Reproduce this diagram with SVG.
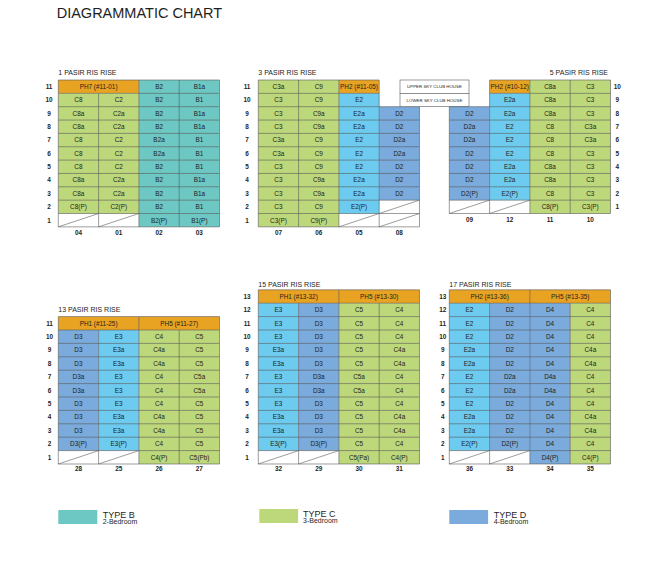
<svg xmlns="http://www.w3.org/2000/svg" width="668" height="569" viewBox="0 0 668 569">
<style>
text{font-family:"Liberation Sans",Arial,sans-serif;fill:#1e1e1e}
.c{font-size:6.4px;text-anchor:middle}
.f{font-size:6.4px;font-weight:bold;text-anchor:middle}
.s{font-size:7px}
.gr{fill:none;stroke:#5a5a5a;stroke-width:0.6}
.g{fill:#BDD77B}.t{fill:#6DC7C2}.d{fill:#7AABDC}.e{fill:#6DCBEF}.o{fill:#E9A322}
.sky{fill:#fff;stroke:#5a5a5a;stroke-width:0.6}
.k{font-size:4.4px;text-anchor:middle}
.lt{font-size:9px}.ls{font-size:7px}
</style>
<rect width="668" height="569" fill="#fff"/>
<text x="56.7" y="18.3" style="font-size:14.5px">DIAGRAMMATIC CHART</text>

<g id="block-1">
<g transform="translate(58.3,80)">
<text class="s" x="0" y="-5">1 PASIR RIS RISE</text>
<rect class="o" x="0" y="0" width="80.6" height="13.35"/>
<rect class="g" x="0" y="13.35" width="80.6" height="120.15"/>
<rect class="t" x="80.6" y="0" width="80.6" height="146.85"/>
<path class="gr" d="M0,0H161.2M0,13.35H161.2M0,26.7H161.2M0,40.05H161.2M0,53.4H161.2M0,66.75H161.2M0,80.1H161.2M0,93.45H161.2M0,106.8H161.2M0,120.15H161.2M0,133.5H161.2M0,146.85H161.2M0,0V146.85M40.3,13.35V146.85M80.6,0V146.85M120.9,0V146.85M161.2,0V146.85M0,146.85L40.3,133.5M40.3,146.85L80.6,133.5"/>
<text class="c" y="9"><tspan x="40.3">PH7 (#11-01)</tspan><tspan x="100.75">B2</tspan><tspan x="141.05">B1a</tspan></text>
<text class="c" y="22.35"><tspan x="20.15">C8</tspan><tspan x="60.45">C2</tspan><tspan x="100.75">B2</tspan><tspan x="141.05">B1</tspan></text>
<text class="c" y="35.7"><tspan x="20.15">C8a</tspan><tspan x="60.45">C2a</tspan><tspan x="100.75">B2</tspan><tspan x="141.05">B1a</tspan></text>
<text class="c" y="49.05"><tspan x="20.15">C8a</tspan><tspan x="60.45">C2a</tspan><tspan x="100.75">B2</tspan><tspan x="141.05">B1a</tspan></text>
<text class="c" y="62.4"><tspan x="20.15">C8</tspan><tspan x="60.45">C2</tspan><tspan x="100.75">B2a</tspan><tspan x="141.05">B1</tspan></text>
<text class="c" y="75.75"><tspan x="20.15">C8</tspan><tspan x="60.45">C2</tspan><tspan x="100.75">B2a</tspan><tspan x="141.05">B1</tspan></text>
<text class="c" y="89.1"><tspan x="20.15">C8</tspan><tspan x="60.45">C2</tspan><tspan x="100.75">B2</tspan><tspan x="141.05">B1</tspan></text>
<text class="c" y="102.45"><tspan x="20.15">C8a</tspan><tspan x="60.45">C2a</tspan><tspan x="100.75">B2</tspan><tspan x="141.05">B1a</tspan></text>
<text class="c" y="115.8"><tspan x="20.15">C8a</tspan><tspan x="60.45">C2a</tspan><tspan x="100.75">B2</tspan><tspan x="141.05">B1a</tspan></text>
<text class="c" y="129.15"><tspan x="20.15">C8(P)</tspan><tspan x="60.45">C2(P)</tspan><tspan x="100.75">B2</tspan><tspan x="141.05">B1</tspan></text>
<text class="c" y="142.5"><tspan x="100.75">B2(P)</tspan><tspan x="141.05">B1(P)</tspan></text>
<text class="f"><tspan x="-9.3" y="9">11</tspan><tspan x="-9.3" y="22.35">10</tspan><tspan x="-9.3" y="35.7">9</tspan><tspan x="-9.3" y="49.05">8</tspan><tspan x="-9.3" y="62.4">7</tspan><tspan x="-9.3" y="75.75">6</tspan><tspan x="-9.3" y="89.1">5</tspan><tspan x="-9.3" y="102.45">4</tspan><tspan x="-9.3" y="115.8">3</tspan><tspan x="-9.3" y="129.15">2</tspan><tspan x="-9.3" y="142.5">1</tspan></text>
<text class="f" y="155.3"><tspan x="20.15">04</tspan><tspan x="60.45">01</tspan><tspan x="100.75">02</tspan><tspan x="141.05">03</tspan></text>
</g>
</g>

<g id="block-3">
<g transform="translate(258.3,80)">
<text class="s" x="0" y="-5">3 PASIR RIS RISE</text>
<rect class="g" x="0" y="0" width="80.6" height="146.85"/>
<rect class="o" x="80.6" y="0" width="40.3" height="13.35"/>
<rect class="e" x="80.6" y="13.35" width="40.3" height="120.15"/>
<rect class="d" x="120.9" y="26.7" width="40.3" height="93.45"/>
<path class="gr" d="M0,0H120.9M0,13.35H120.9M0,26.7H161.2M0,40.05H161.2M0,53.4H161.2M0,66.75H161.2M0,80.1H161.2M0,93.45H161.2M0,106.8H161.2M0,120.15H161.2M0,133.5H161.2M0,146.85H161.2M0,0V146.85M40.3,0V146.85M80.6,0V146.85M120.9,0V146.85M161.2,26.7V146.85M80.6,146.85L120.9,133.5M120.9,133.5L161.2,120.15M120.9,146.85L161.2,133.5"/>
<text class="c" y="9"><tspan x="20.15">C3a</tspan><tspan x="60.45">C9</tspan><tspan x="100.75">PH2 (#11-05)</tspan></text>
<text class="c" y="22.35"><tspan x="20.15">C3</tspan><tspan x="60.45">C9</tspan><tspan x="100.75">E2</tspan></text>
<text class="c" y="35.7"><tspan x="20.15">C3</tspan><tspan x="60.45">C9a</tspan><tspan x="100.75">E2a</tspan><tspan x="141.05">D2</tspan></text>
<text class="c" y="49.05"><tspan x="20.15">C3</tspan><tspan x="60.45">C9a</tspan><tspan x="100.75">E2a</tspan><tspan x="141.05">D2</tspan></text>
<text class="c" y="62.4"><tspan x="20.15">C3a</tspan><tspan x="60.45">C9</tspan><tspan x="100.75">E2</tspan><tspan x="141.05">D2a</tspan></text>
<text class="c" y="75.75"><tspan x="20.15">C3a</tspan><tspan x="60.45">C9</tspan><tspan x="100.75">E2</tspan><tspan x="141.05">D2a</tspan></text>
<text class="c" y="89.1"><tspan x="20.15">C3</tspan><tspan x="60.45">C9</tspan><tspan x="100.75">E2</tspan><tspan x="141.05">D2</tspan></text>
<text class="c" y="102.45"><tspan x="20.15">C3</tspan><tspan x="60.45">C9a</tspan><tspan x="100.75">E2a</tspan><tspan x="141.05">D2</tspan></text>
<text class="c" y="115.8"><tspan x="20.15">C3</tspan><tspan x="60.45">C9a</tspan><tspan x="100.75">E2a</tspan><tspan x="141.05">D2</tspan></text>
<text class="c" y="129.15"><tspan x="20.15">C3</tspan><tspan x="60.45">C9</tspan><tspan x="100.75">E2(P)</tspan></text>
<text class="c" y="142.5"><tspan x="20.15">C3(P)</tspan><tspan x="60.45">C9(P)</tspan></text>
<text class="f"><tspan x="-11.3" y="9">11</tspan><tspan x="-11.3" y="22.35">10</tspan><tspan x="-11.3" y="35.7">9</tspan><tspan x="-11.3" y="49.05">8</tspan><tspan x="-11.3" y="62.4">7</tspan><tspan x="-11.3" y="75.75">6</tspan><tspan x="-11.3" y="89.1">5</tspan><tspan x="-11.3" y="102.45">4</tspan><tspan x="-11.3" y="115.8">3</tspan><tspan x="-11.3" y="129.15">2</tspan><tspan x="-11.3" y="142.5">1</tspan></text>
<text class="f" y="155.3"><tspan x="20.15">07</tspan><tspan x="60.45">06</tspan><tspan x="100.75">05</tspan><tspan x="141.05">08</tspan></text>
</g>
</g>

<g id="sky-club">
<rect class="sky" x="400" y="80" width="69" height="13.35"/>
<rect class="sky" x="400" y="93.35" width="69" height="13.35"/>
<text class="k" x="434.5" y="88.4">UPPER SKY CLUB HOUSE</text>
<text class="k" x="434.5" y="101.7">LOWER SKY CLUB HOUSE</text>
</g>

<g id="block-5">
<g transform="translate(449.3,80)">
<text class="s" x="158.7" y="-5" style="text-anchor:end">5 PASIR RIS RISE</text>
<rect class="d" x="0" y="26.7" width="40.3" height="93.45"/>
<rect class="o" x="40.3" y="0" width="40.3" height="13.35"/>
<rect class="e" x="40.3" y="13.35" width="40.3" height="106.8"/>
<rect class="g" x="80.6" y="0" width="80.6" height="133.5"/>
<path class="gr" d="M40.3,0H161.2M40.3,13.35H161.2M0,26.7H161.2M0,40.05H161.2M0,53.4H161.2M0,66.75H161.2M0,80.1H161.2M0,93.45H161.2M0,106.8H161.2M0,120.15H161.2M0,133.5H161.2M0,26.7V133.5M40.3,0V133.5M80.6,0V133.5M120.9,0V133.5M161.2,0V133.5M0,133.5L40.3,120.15M40.3,133.5L80.6,120.15"/>
<text class="c" y="9"><tspan x="60.45">PH2 (#10-12)</tspan><tspan x="100.75">C8a</tspan><tspan x="141.05">C3</tspan></text>
<text class="c" y="22.35"><tspan x="60.45">E2a</tspan><tspan x="100.75">C8a</tspan><tspan x="141.05">C3</tspan></text>
<text class="c" y="35.7"><tspan x="20.15">D2</tspan><tspan x="60.45">E2a</tspan><tspan x="100.75">C8a</tspan><tspan x="141.05">C3</tspan></text>
<text class="c" y="49.05"><tspan x="20.15">D2a</tspan><tspan x="60.45">E2</tspan><tspan x="100.75">C8</tspan><tspan x="141.05">C3a</tspan></text>
<text class="c" y="62.4"><tspan x="20.15">D2a</tspan><tspan x="60.45">E2</tspan><tspan x="100.75">C8</tspan><tspan x="141.05">C3a</tspan></text>
<text class="c" y="75.75"><tspan x="20.15">D2</tspan><tspan x="60.45">E2</tspan><tspan x="100.75">C8</tspan><tspan x="141.05">C3</tspan></text>
<text class="c" y="89.1"><tspan x="20.15">D2</tspan><tspan x="60.45">E2a</tspan><tspan x="100.75">C8a</tspan><tspan x="141.05">C3</tspan></text>
<text class="c" y="102.45"><tspan x="20.15">D2</tspan><tspan x="60.45">E2a</tspan><tspan x="100.75">C8a</tspan><tspan x="141.05">C3</tspan></text>
<text class="c" y="115.8"><tspan x="20.15">D2(P)</tspan><tspan x="60.45">E2(P)</tspan><tspan x="100.75">C8</tspan><tspan x="141.05">C3</tspan></text>
<text class="c" y="129.15"><tspan x="100.75">C8(P)</tspan><tspan x="141.05">C3(P)</tspan></text>
<text class="f"><tspan x="168" y="9">10</tspan><tspan x="168" y="22.35">9</tspan><tspan x="168" y="35.7">8</tspan><tspan x="168" y="49.05">7</tspan><tspan x="168" y="62.4">6</tspan><tspan x="168" y="75.75">5</tspan><tspan x="168" y="89.1">4</tspan><tspan x="168" y="102.45">3</tspan><tspan x="168" y="115.8">2</tspan><tspan x="168" y="129.15">1</tspan></text>
<text class="f" y="141.6"><tspan x="20.15">09</tspan><tspan x="60.45">12</tspan><tspan x="100.75">11</tspan><tspan x="141.05">10</tspan></text>
</g>
</g>

<g id="block-13">
<g transform="translate(58.3,316.6)">
<text class="s" x="0" y="-5.1">13 PASIR RIS RISE</text>
<rect class="o" x="0" y="0" width="161.2" height="13.4"/>
<rect class="d" x="0" y="13.4" width="40.3" height="120.6"/>
<rect class="e" x="40.3" y="13.4" width="40.3" height="120.6"/>
<rect class="g" x="80.6" y="13.4" width="80.6" height="134"/>
<path class="gr" d="M0,0H161.2M0,13.4H161.2M0,26.8H161.2M0,40.2H161.2M0,53.6H161.2M0,67H161.2M0,80.4H161.2M0,93.8H161.2M0,107.2H161.2M0,120.6H161.2M0,134H161.2M0,147.4H161.2M0,0V147.4M40.3,13.4V147.4M80.6,0V147.4M120.9,13.4V147.4M161.2,0V147.4M0,147.4L40.3,134M40.3,147.4L80.6,134"/>
<text class="c" y="9.05"><tspan x="40.3">PH1 (#11-25)</tspan><tspan x="120.9">PH5 (#11-27)</tspan></text>
<text class="c" y="22.45"><tspan x="20.15">D3</tspan><tspan x="60.45">E3</tspan><tspan x="100.75">C4</tspan><tspan x="141.05">C5</tspan></text>
<text class="c" y="35.85"><tspan x="20.15">D3</tspan><tspan x="60.45">E3a</tspan><tspan x="100.75">C4a</tspan><tspan x="141.05">C5</tspan></text>
<text class="c" y="49.25"><tspan x="20.15">D3</tspan><tspan x="60.45">E3a</tspan><tspan x="100.75">C4a</tspan><tspan x="141.05">C5</tspan></text>
<text class="c" y="62.65"><tspan x="20.15">D3a</tspan><tspan x="60.45">E3</tspan><tspan x="100.75">C4</tspan><tspan x="141.05">C5a</tspan></text>
<text class="c" y="76.05"><tspan x="20.15">D3a</tspan><tspan x="60.45">E3</tspan><tspan x="100.75">C4</tspan><tspan x="141.05">C5a</tspan></text>
<text class="c" y="89.45"><tspan x="20.15">D3</tspan><tspan x="60.45">E3</tspan><tspan x="100.75">C4</tspan><tspan x="141.05">C5</tspan></text>
<text class="c" y="102.85"><tspan x="20.15">D3</tspan><tspan x="60.45">E3a</tspan><tspan x="100.75">C4a</tspan><tspan x="141.05">C5</tspan></text>
<text class="c" y="116.25"><tspan x="20.15">D3</tspan><tspan x="60.45">E3a</tspan><tspan x="100.75">C4a</tspan><tspan x="141.05">C5</tspan></text>
<text class="c" y="129.65"><tspan x="20.15">D3(P)</tspan><tspan x="60.45">E3(P)</tspan><tspan x="100.75">C4</tspan><tspan x="141.05">C5</tspan></text>
<text class="c" y="143.05"><tspan x="100.75">C4(P)</tspan><tspan x="141.05">C5(Pb)</tspan></text>
<text class="f"><tspan x="-8.8" y="9.05">11</tspan><tspan x="-8.8" y="22.45">10</tspan><tspan x="-8.8" y="35.85">9</tspan><tspan x="-8.8" y="49.25">8</tspan><tspan x="-8.8" y="62.65">7</tspan><tspan x="-8.8" y="76.05">6</tspan><tspan x="-8.8" y="89.45">5</tspan><tspan x="-8.8" y="102.85">4</tspan><tspan x="-8.8" y="116.25">3</tspan><tspan x="-8.8" y="129.65">2</tspan><tspan x="-8.8" y="143.05">1</tspan></text>
<text class="f" y="154.9"><tspan x="20.15">28</tspan><tspan x="60.45">25</tspan><tspan x="100.75">26</tspan><tspan x="141.05">27</tspan></text>
</g>
</g>

<g id="block-15">
<g transform="translate(258.3,289.8)">
<text class="s" x="0" y="-2.8">15 PASIR RIS RISE</text>
<rect class="o" x="0" y="0" width="161.2" height="13.4"/>
<rect class="e" x="0" y="13.4" width="40.3" height="147.4"/>
<rect class="d" x="40.3" y="13.4" width="40.3" height="147.4"/>
<rect class="g" x="80.6" y="13.4" width="80.6" height="160.8"/>
<path class="gr" d="M0,0H161.2M0,13.4H161.2M0,26.8H161.2M0,40.2H161.2M0,53.6H161.2M0,67H161.2M0,80.4H161.2M0,93.8H161.2M0,107.2H161.2M0,120.6H161.2M0,134H161.2M0,147.4H161.2M0,160.8H161.2M0,174.2H161.2M0,0V174.2M40.3,13.4V174.2M80.6,0V174.2M120.9,13.4V174.2M161.2,0V174.2M0,174.2L40.3,160.8M40.3,174.2L80.6,160.8"/>
<text class="c" y="9.05"><tspan x="40.3">PH1 (#13-32)</tspan><tspan x="120.9">PH5 (#13-30)</tspan></text>
<text class="c" y="22.45"><tspan x="20.15">E3</tspan><tspan x="60.45">D3</tspan><tspan x="100.75">C5</tspan><tspan x="141.05">C4</tspan></text>
<text class="c" y="35.85"><tspan x="20.15">E3</tspan><tspan x="60.45">D3</tspan><tspan x="100.75">C5</tspan><tspan x="141.05">C4</tspan></text>
<text class="c" y="49.25"><tspan x="20.15">E3</tspan><tspan x="60.45">D3</tspan><tspan x="100.75">C5</tspan><tspan x="141.05">C4</tspan></text>
<text class="c" y="62.65"><tspan x="20.15">E3a</tspan><tspan x="60.45">D3</tspan><tspan x="100.75">C5</tspan><tspan x="141.05">C4a</tspan></text>
<text class="c" y="76.05"><tspan x="20.15">E3a</tspan><tspan x="60.45">D3</tspan><tspan x="100.75">C5</tspan><tspan x="141.05">C4a</tspan></text>
<text class="c" y="89.45"><tspan x="20.15">E3</tspan><tspan x="60.45">D3a</tspan><tspan x="100.75">C5a</tspan><tspan x="141.05">C4</tspan></text>
<text class="c" y="102.85"><tspan x="20.15">E3</tspan><tspan x="60.45">D3a</tspan><tspan x="100.75">C5a</tspan><tspan x="141.05">C4</tspan></text>
<text class="c" y="116.25"><tspan x="20.15">E3</tspan><tspan x="60.45">D3</tspan><tspan x="100.75">C5</tspan><tspan x="141.05">C4</tspan></text>
<text class="c" y="129.65"><tspan x="20.15">E3a</tspan><tspan x="60.45">D3</tspan><tspan x="100.75">C5</tspan><tspan x="141.05">C4a</tspan></text>
<text class="c" y="143.05"><tspan x="20.15">E3a</tspan><tspan x="60.45">D3</tspan><tspan x="100.75">C5</tspan><tspan x="141.05">C4a</tspan></text>
<text class="c" y="156.45"><tspan x="20.15">E3(P)</tspan><tspan x="60.45">D3(P)</tspan><tspan x="100.75">C5</tspan><tspan x="141.05">C4</tspan></text>
<text class="c" y="169.85"><tspan x="100.75">C5(Pa)</tspan><tspan x="141.05">C4(P)</tspan></text>
<text class="f"><tspan x="-11.3" y="9.05">13</tspan><tspan x="-11.3" y="22.45">12</tspan><tspan x="-11.3" y="35.85">11</tspan><tspan x="-11.3" y="49.25">10</tspan><tspan x="-11.3" y="62.65">9</tspan><tspan x="-11.3" y="76.05">8</tspan><tspan x="-11.3" y="89.45">7</tspan><tspan x="-11.3" y="102.85">6</tspan><tspan x="-11.3" y="116.25">5</tspan><tspan x="-11.3" y="129.65">4</tspan><tspan x="-11.3" y="143.05">3</tspan><tspan x="-11.3" y="156.45">2</tspan><tspan x="-11.3" y="169.85">1</tspan></text>
<text class="f" y="181.7"><tspan x="20.15">32</tspan><tspan x="60.45">29</tspan><tspan x="100.75">30</tspan><tspan x="141.05">31</tspan></text>
</g>
</g>

<g id="block-17">
<g transform="translate(449.3,289.8)">
<text class="s" x="0" y="-2.8">17 PASIR RIS RISE</text>
<rect class="o" x="0" y="0" width="161.2" height="13.4"/>
<rect class="e" x="0" y="13.4" width="40.3" height="147.4"/>
<rect class="d" x="40.3" y="13.4" width="40.3" height="147.4"/>
<rect class="d" x="80.6" y="13.4" width="40.3" height="160.8"/>
<rect class="g" x="120.9" y="13.4" width="40.3" height="160.8"/>
<path class="gr" d="M0,0H161.2M0,13.4H161.2M0,26.8H161.2M0,40.2H161.2M0,53.6H161.2M0,67H161.2M0,80.4H161.2M0,93.8H161.2M0,107.2H161.2M0,120.6H161.2M0,134H161.2M0,147.4H161.2M0,160.8H161.2M0,174.2H161.2M0,0V174.2M40.3,13.4V174.2M80.6,0V174.2M120.9,13.4V174.2M161.2,0V174.2M0,174.2L40.3,160.8M40.3,174.2L80.6,160.8"/>
<text class="c" y="9.05"><tspan x="40.3">PH2 (#13-36)</tspan><tspan x="120.9">PH5 (#13-35)</tspan></text>
<text class="c" y="22.45"><tspan x="20.15">E2</tspan><tspan x="60.45">D2</tspan><tspan x="100.75">D4</tspan><tspan x="141.05">C4</tspan></text>
<text class="c" y="35.85"><tspan x="20.15">E2</tspan><tspan x="60.45">D2</tspan><tspan x="100.75">D4</tspan><tspan x="141.05">C4</tspan></text>
<text class="c" y="49.25"><tspan x="20.15">E2</tspan><tspan x="60.45">D2</tspan><tspan x="100.75">D4</tspan><tspan x="141.05">C4</tspan></text>
<text class="c" y="62.65"><tspan x="20.15">E2a</tspan><tspan x="60.45">D2</tspan><tspan x="100.75">D4</tspan><tspan x="141.05">C4a</tspan></text>
<text class="c" y="76.05"><tspan x="20.15">E2a</tspan><tspan x="60.45">D2</tspan><tspan x="100.75">D4</tspan><tspan x="141.05">C4a</tspan></text>
<text class="c" y="89.45"><tspan x="20.15">E2</tspan><tspan x="60.45">D2a</tspan><tspan x="100.75">D4a</tspan><tspan x="141.05">C4</tspan></text>
<text class="c" y="102.85"><tspan x="20.15">E2</tspan><tspan x="60.45">D2a</tspan><tspan x="100.75">D4a</tspan><tspan x="141.05">C4</tspan></text>
<text class="c" y="116.25"><tspan x="20.15">E2</tspan><tspan x="60.45">D2</tspan><tspan x="100.75">D4</tspan><tspan x="141.05">C4</tspan></text>
<text class="c" y="129.65"><tspan x="20.15">E2a</tspan><tspan x="60.45">D2</tspan><tspan x="100.75">D4</tspan><tspan x="141.05">C4a</tspan></text>
<text class="c" y="143.05"><tspan x="20.15">E2a</tspan><tspan x="60.45">D2</tspan><tspan x="100.75">D4</tspan><tspan x="141.05">C4a</tspan></text>
<text class="c" y="156.45"><tspan x="20.15">E2(P)</tspan><tspan x="60.45">D2(P)</tspan><tspan x="100.75">D4</tspan><tspan x="141.05">C4</tspan></text>
<text class="c" y="169.85"><tspan x="100.75">D4(P)</tspan><tspan x="141.05">C4(P)</tspan></text>
<text class="f"><tspan x="-6.6" y="9.05">13</tspan><tspan x="-6.6" y="22.45">12</tspan><tspan x="-6.6" y="35.85">11</tspan><tspan x="-6.6" y="49.25">10</tspan><tspan x="-6.6" y="62.65">9</tspan><tspan x="-6.6" y="76.05">8</tspan><tspan x="-6.6" y="89.45">7</tspan><tspan x="-6.6" y="102.85">6</tspan><tspan x="-6.6" y="116.25">5</tspan><tspan x="-6.6" y="129.65">4</tspan><tspan x="-6.6" y="143.05">3</tspan><tspan x="-6.6" y="156.45">2</tspan><tspan x="-6.6" y="169.85">1</tspan></text>
<text class="f" y="181.7"><tspan x="20.15">36</tspan><tspan x="60.45">33</tspan><tspan x="100.75">34</tspan><tspan x="141.05">35</tspan></text>
</g>
</g>

<g id="connectors"></g>

<g id="legend">
<g id="legend-b"><rect class="t" x="58.3" y="510" width="39" height="14"/><text class="lt" x="102.7" y="517.5">TYPE B</text><text class="ls" x="102.7" y="524">2-Bedroom</text></g>
<g id="legend-c"><rect class="g" x="259.3" y="509" width="38.8" height="14"/><text class="lt" x="303" y="516.5">TYPE C</text><text class="ls" x="303" y="523">3-Bedroom</text></g>
<g id="legend-d"><rect class="d" x="449.3" y="510" width="38.8" height="14"/><text class="lt" x="493.7" y="517.5">TYPE D</text><text class="ls" x="493.7" y="524">4-Bedroom</text></g>
</g>
</svg>
